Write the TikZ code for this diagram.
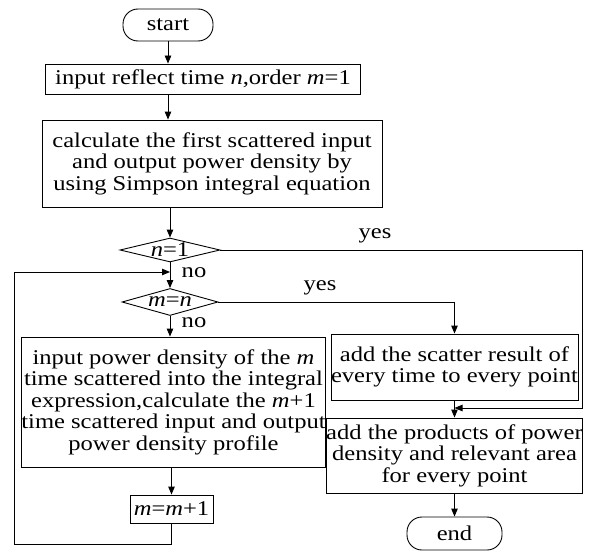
\documentclass[tikz,border=0pt]{standalone}
\usepackage{fontspec}
\setmainfont[FakeStretch=1.17]{Liberation Serif}
\usetikzlibrary{shapes.geometric,arrows.meta}
\begin{document}
\begin{tikzpicture}[x=1pt,y=1pt,
  txt/.style={font=\fontsize{21}{21.5}\selectfont},
  box/.style={draw, line width=0.9pt, inner sep=0pt, align=center, txt},
  term/.style={box, rounded corners=15pt},
  dec/.style={diamond, draw, line width=0.9pt, inner sep=0pt},
  arr/.style={line width=0.9pt, -{Triangle[length=8pt,width=6.5pt]}},
  lbl/.style={txt, inner sep=0pt},
]
\useasboundingbox (0,0) rectangle (605,-551);

% nodes
\node[term, minimum width=90pt, minimum height=32pt] (start) at (168,-25) {start};
\node[box, minimum width=315pt, minimum height=30pt] (input) at (203,-79) {input reflect time \textit{n},order \textit{m}=1};
\node[box, minimum width=340pt, minimum height=87pt] (calc) at (212,-163.5)
  {calculate the first scattered input\\and output power density by\\using Simpson integral equation};
\node[dec, minimum width=100pt, minimum height=24pt, label={[lbl]center:\textit{n}=1}] (d1) at (170,-250) {};
\node[dec, minimum width=96pt, minimum height=27pt, label={[lbl]center:\textit{m}=\textit{n}}] (d2) at (170,-302) {};
\node[box, minimum width=303pt, minimum height=130pt] (pbox) at (173.5,-402)
  {input power density of the \textit{m}\\time scattered into the integral\\expression,calculate the \textit{m}+1\\time scattered input and output\\power density profile};
\node[box, minimum width=83pt, minimum height=28pt] (inc) at (171.5,-509) {\textit{m}=\textit{m}+1};
\node[box, minimum width=245pt, minimum height=66pt] (scat) at (454.5,-367)
  {add the scatter result of\\every time to every point};
\node[box, minimum width=245pt, minimum height=75pt] (prod) at (454.5,-455.5)
  {add the products of power\\density and relevant area\\for every point};
\node[term, minimum width=95pt, minimum height=33pt] (end) at (454.5,-533.5) {end};

% labels
\node[lbl] (yes1) at (375,-236) {yes};
\node[lbl] (no1) at (194,-273) {no};
\node[lbl] (yes2) at (320,-288) {yes};
\node[lbl] (no2) at (194,-323) {no};

% helper coordinates
\coordinate (j1) at (170,-272);
\coordinate (lb) at (14,-544);
\coordinate (r1) at (582,-250);
\coordinate (j2) at (454.5,-408);

% connectors
\draw[arr] (start.south) -- (start.south |- input.north);
\draw[arr] (start.south |- input.south) -- (start.south |- calc.north);
\draw[arr] (d1.north |- calc.south) -- (d1.north);
\draw[arr] (d1.south) -- (d2.north);
\draw[arr] (d2.south) -- (d2.south |- pbox.north);
\draw[arr] (inc.north |- pbox.south) -- (inc.north);
\draw[arr] (inc.south) |- (lb) |- (j1);
\draw[arr] (d2.east) -| (scat.north);
\draw[arr] (d1.east) -- (r1) |- (j2);
\draw[arr] (scat.south) -- (prod.north);
\draw[arr] (prod.south) -- (end.north);
\end{tikzpicture}
\end{document}
